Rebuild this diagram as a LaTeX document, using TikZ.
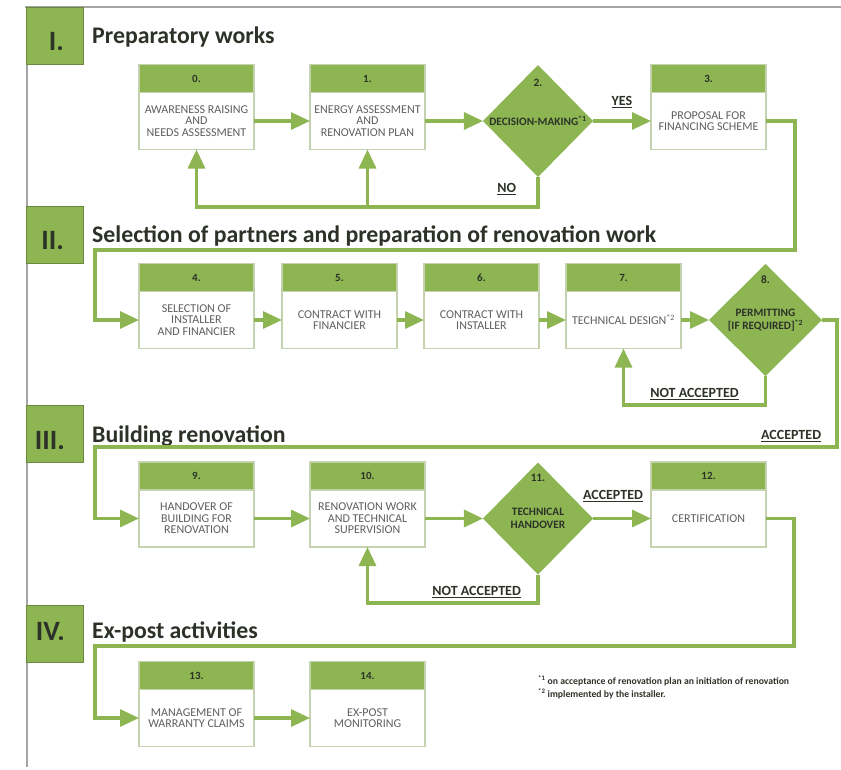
\documentclass[tikz,border=0pt]{standalone}
\usepackage{fontspec}
\setmainfont{Carlito}
\usepackage{xcolor}
\usetikzlibrary{positioning,shapes.geometric,arrows.meta}
\definecolor{leaf}{RGB}{141,182,83}
\definecolor{frameline}{RGB}{165,165,165}
\definecolor{boxline}{RGB}{196,210,176}
\definecolor{bodytext}{RGB}{95,95,95}
\definecolor{darktext}{RGB}{45,50,40}

\begin{document}
\begin{tikzpicture}[x=1pt,y=-1pt,
flow/.style={draw=leaf,line width=3.2pt,-{Triangle[length=19pt,width=17pt]}},
body/.style={draw=boxline,line width=1.3pt,fill=white,minimum width=115pt,minimum height=57pt,inner sep=0pt,outer sep=0pt,align=center,text=bodytext,font=\fontsize{12}{11.5}\selectfont},
head/.style={draw=boxline,line width=1.3pt,fill=leaf,minimum width=115pt,minimum height=28pt,inner sep=0pt,outer sep=0pt,text=darktext,font=\bfseries\fontsize{11}{12}\selectfont},
decision/.style={diamond,fill=leaf,minimum width=110pt,minimum height=112pt,inner sep=0pt,outer sep=0pt},
dtext/.style={align=center,inner sep=0pt,text=darktext,font=\bfseries\fontsize{11.3}{12.5}\selectfont},
phase/.style={draw=leaf!75!black,line width=0.8pt,fill=leaf,minimum width=57pt,minimum height=57pt,inner sep=0pt},
numeral/.style={anchor=base east,inner sep=0pt,text=darktext,font=\bfseries\fontsize{28}{30}\selectfont},
title/.style={anchor=base west,inner sep=0pt,text=darktext,font=\bfseries\fontsize{23.8}{26}\selectfont},
answer/.style={text=darktext,font=\bfseries\fontsize{14}{15}\selectfont}]
\tikzstyle{frame}=[draw=frameline,line width=1.3pt]
\useasboundingbox (0,0) rectangle (841,769);
\draw[frame] (25,7) -- (841,7);
\draw[frame] (27,7) -- (27,767);

\node[phase] (p1) at (54.5,35.5) {};
\node[numeral] (n1) at (64,50) {I.};
\node[title] (t1) at (92,43) {Preparatory works};
\node[phase] (p2) at (54.5,234.5) {};
\node[numeral] (n2) at (64,249) {II.};
\node[title] (t2) at (92,242) {Selection of partners and preparation of renovation work};
\node[phase] (p3) at (54.5,433.5) {};
\node[numeral] (n3) at (65,449) {III.};
\node[title] (t3) at (92,442) {Building renovation};
\node[phase] (p4) at (54.5,633.5) {};
\node[numeral] (n4) at (65,640) {IV.};
\node[title] (t4) at (92,638) {Ex-post activities};

\node[body] (b0) at (196.5,121) {AWARENESS RAISING\\AND\\NEEDS ASSESSMENT};
\node[head,above=0pt of b0] (h0) {0.};
\node[body,right=56pt of b0] (b1) {ENERGY ASSESSMENT\\AND\\RENOVATION PLAN};
\node[head,above=0pt of b1] (h1) {1.};
\node[decision,right=58pt of b1] (d2) {};
\node[dtext] (d2t) at (d2) {DECISION-MAKING\textsuperscript{*1}};
\node[dtext,below=14pt of d2.north] (d2n) {2.};
\node[body,right=58pt of d2] (b3) {PROPOSAL FOR\\FINANCING SCHEME};
\node[head,above=0pt of b3] (h3) {3.};

\node[body] (b4) at (196.5,320) {SELECTION OF\\INSTALLER\\AND FINANCIER};
\node[head,above=0pt of b4] (h4) {4.};
\node[body,right=28pt of b4] (b5) {CONTRACT WITH\\FINANCIER};
\node[head,above=0pt of b5] (h5) {5.};
\node[body,right=27pt of b5] (b6) {CONTRACT WITH\\INSTALLER};
\node[head,above=0pt of b6] (h6) {6.};
\node[body,right=27pt of b6] (b7) {TECHNICAL DESIGN\textsuperscript{*2}};
\node[head,above=0pt of b7] (h7) {7.};
\node[decision,right=28pt of b7,minimum width=113pt] (d8) {};
\node[dtext] (d8t) at (d8) {PERMITTING\\{[IF REQUIRED]}\textsuperscript{*2}};
\node[dtext,below=11pt of d8.north] (d8n) {8.};

\node[body] (b9) at (196.5,518.5) {HANDOVER OF\\BUILDING FOR\\RENOVATION};
\node[head,above=0pt of b9] (h9) {9.};
\node[body,right=56pt of b9] (b10) {RENOVATION WORK\\AND TECHNICAL\\SUPERVISION};
\node[head,above=0pt of b10] (h10) {10.};
\node[decision,right=58pt of b10] (d11) {};
\node[dtext] (d11t) at (d11) {TECHNICAL\\HANDOVER};
\node[dtext,below=11pt of d11.north] (d11n) {11.};
\node[body,right=58pt of d11] (b12) {CERTIFICATION};
\node[head,above=0pt of b12] (h12) {12.};

\node[body] (b13) at (196.5,718) {MANAGEMENT OF\\WARRANTY CLAIMS};
\node[head,above=0pt of b13] (h13) {13.};
\node[body,right=56pt of b13] (b14) {EX-POST\\MONITORING};
\node[head,above=0pt of b14] (h14) {14.};

\node[anchor=base west,align=left,inner sep=0pt,text=darktext,font=\bfseries\fontsize{9.7}{13}\selectfont] (fn) at (538,697)
{\textsuperscript{*1} on acceptance of renovation plan an initiation of renovation\\
\textsuperscript{*2} implemented by the installer.};

\coordinate (loop1) at (538,207);
\coordinate (turn1) at (795,250);
\coordinate (drop1) at (95,320);
\coordinate (loop2) at (765.5,405);
\coordinate (turn2) at (837,447);
\coordinate (drop2) at (95,518.5);
\coordinate (loop3) at (538,603);
\coordinate (turn3) at (794,646);
\coordinate (drop3) at (95,718);

\draw[flow] (b0) -- (b1);
\draw[flow] (b1) -- (d2);
\draw[flow] (d2) -- (b3) node[answer,midway,above=8pt] {\underline{YES}};
\draw[flow] (d2.south) -- (loop1) node[answer,above left=7pt and 17pt] {\underline{NO}} -| (b0.south);
\draw[flow] (b1.south |- loop1) -- (b1.south);
\draw[flow] (b3.east) -| (turn1) -| (drop1) -- (b4.west);

\draw[flow] (b4) -- (b5);
\draw[flow] (b5) -- (b6);
\draw[flow] (b6) -- (b7);
\draw[flow] (b7) -- (d8);
\draw[flow] (d8.south) -- (loop2) -| node[answer,pos=0.25,above] {\underline{NOT ACCEPTED}} (b7.south);
\draw[flow] (d8.east) -| (turn2) node[answer,above left=0pt and 11pt] {\underline{ACCEPTED}} -| (drop2) -- (b9.west);

\draw[flow] (b9) -- (b10);
\draw[flow] (b10) -- (d11);
\draw[flow] (d11) -- (b12) node[answer,midway,above=12pt,xshift=-9pt] {\underline{ACCEPTED}};
\draw[flow] (d11.south) -- (loop3) -| node[answer,pos=0.18,above] {\underline{NOT ACCEPTED}} (b10.south);
\draw[flow] (b12.east) -| (turn3) -| (drop3) -- (b13.west);

\draw[flow] (b13) -- (b14);
\end{tikzpicture}
\end{document}
